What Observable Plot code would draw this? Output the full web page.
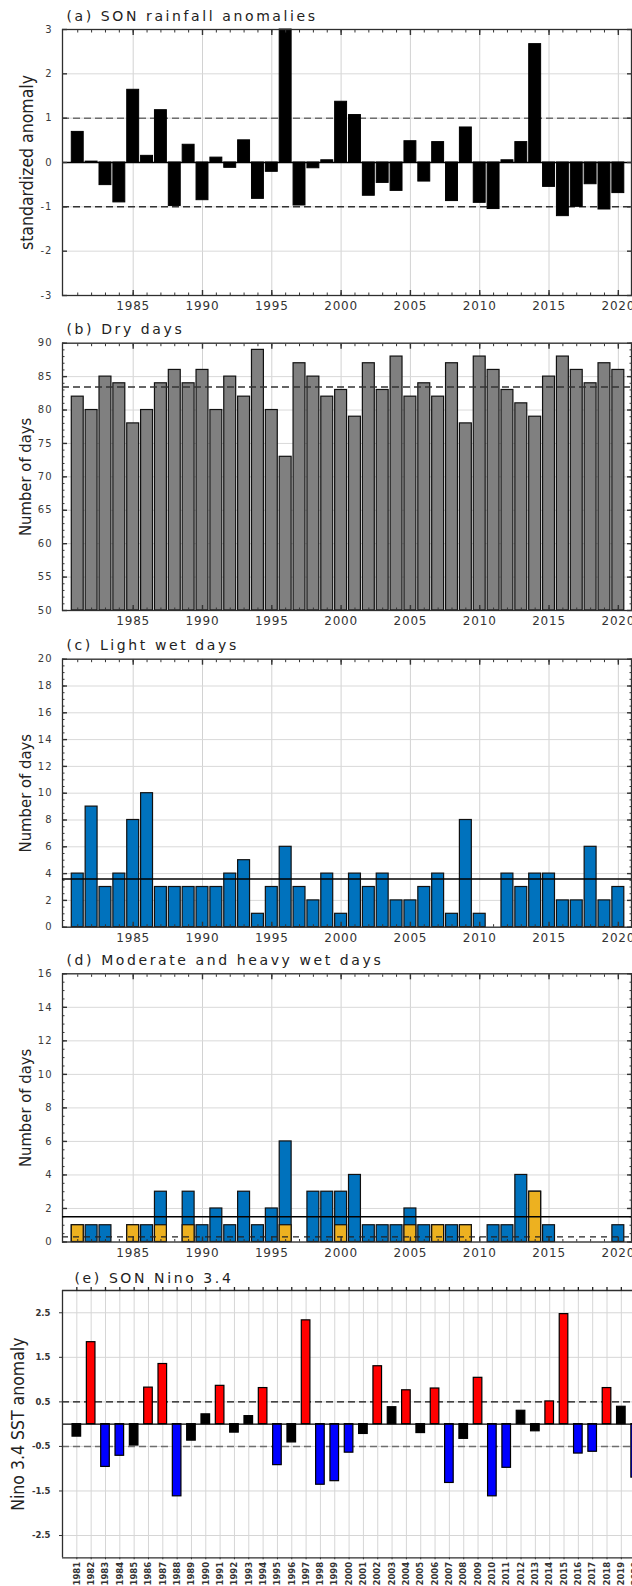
<!DOCTYPE html>
<html>
<head>
<meta charset="utf-8">
<script src="https://cdn.jsdelivr.net/npm/d3@7"></script>
<script src="https://cdn.jsdelivr.net/npm/@observablehq/plot@0.6"></script>
<style>
  html, body { margin: 0; padding: 0; background: #fff; }
  #fig { position: relative; width: 632px; height: 1586px; overflow: hidden; background: #fff; }
  #fig svg { position: absolute; left: 0; }
  .xlab text { letter-spacing: 0.8px; }
  .ylab text { letter-spacing: 1px; }
  .ttl text { letter-spacing: 2.6px; }
</style>
</head>
<body>
<div id="fig"></div>
<script>
// ---- data -------------------------------------------------------------
const years = d3.range(1981, 2021);
const yearTicks = [1985, 1990, 1995, 2000, 2005, 2010, 2015, 2020];

// (a) SON rainfall, standardized anomaly
const rainAnomaly = [0.69, 0.02, -0.51, -0.90, 1.64, 0.15, 1.18, -0.98, 0.40, -0.85,
  0.11, -0.12, 0.50, -0.82, -0.21, 3.00, -0.97, -0.13, 0.05, 1.37,
  1.07, -0.75, -0.46, -0.64, 0.48, -0.43, 0.46, -0.87, 0.79, -0.91,
  -1.05, 0.05, 0.46, 2.67, -0.55, -1.21, -1.00, -0.49, -1.06, -0.69];

// (b) dry days
const dryDays = [82, 80, 85, 84, 78, 80, 84, 86, 84, 86,
  80, 85, 82, 89, 80, 73, 87, 85, 82, 83,
  79, 87, 83, 88, 82, 84, 82, 87, 78, 88,
  86, 83, 81, 79, 85, 88, 86, 84, 87, 86];

// (c) light wet days
const lightWetDays = [4, 9, 3, 4, 8, 10, 3, 3, 3, 3,
  3, 4, 5, 1, 3, 6, 3, 2, 4, 1,
  4, 3, 4, 2, 2, 3, 4, 1, 8, 1,
  0, 4, 3, 4, 4, 2, 2, 6, 2, 3];

// (d) moderate + heavy wet days, and heavy wet days alone
const modHeavyWetDays = [1, 1, 1, 0, 1, 1, 3, 0, 3, 1,
  2, 1, 3, 1, 2, 6, 0, 3, 3, 3,
  4, 1, 1, 1, 2, 1, 1, 1, 1, 0,
  1, 1, 4, 3, 1, 0, 0, 0, 0, 1];
const heavyWetDays = [1, 0, 0, 0, 1, 0, 1, 0, 1, 0,
  0, 0, 0, 0, 0, 1, 0, 0, 0, 1,
  0, 0, 0, 0, 1, 0, 1, 0, 1, 0,
  0, 0, 0, 3, 0, 0, 0, 0, 0, 0];

// (e) SON Nino 3.4 SST anomaly
const nino34 = [-0.28, 1.84, -0.96, -0.71, -0.48, 0.82, 1.35, -1.62, -0.37, 0.22,
  0.86, -0.19, 0.18, 0.81, -0.92, -0.41, 2.33, -1.36, -1.28, -0.64,
  -0.22, 1.30, 0.38, 0.76, -0.20, 0.80, -1.32, -0.33, 1.04, -1.62,
  -0.98, 0.30, -0.16, 0.51, 2.47, -0.66, -0.62, 0.81, 0.39, -1.20];
const ninoTicks = [2.5, 1.5, 0.5, -0.5, -1.5, -2.5];

// ---- helpers ----------------------------------------------------------
const rows = (arr) => years.map((year, i) => ({year, value: arr[i]}));
const W = 632;
const FONT = "'DejaVu Sans', Verdana, sans-serif";
const COND = "'DejaVu Sans Condensed', 'Liberation Sans Narrow', 'DejaVu Sans', sans-serif";
const fig = document.getElementById("fig");
const blank = () => "";
const plain = (d) => String(d);

function place(node, top) {
  node.style.top = top + "px";
  fig.append(node);
}

// Framed panel shared by (a)–(d)
function upperPanel({top, height, frameTop, frameBottom, yDomain, yMajor, yMinor, title, ylabel, ylabelSize, ylabelDx, marks, overlays}) {
  return Plot.plot({
    width: W,
    height,
    marginTop: frameTop - top,
    marginBottom: top + height - frameBottom,
    marginLeft: 62,
    marginRight: 1,
    style: {fontFamily: FONT, background: "transparent", overflow: "visible"},
    x: {domain: [1979.9, 2020.95]},
    y: {domain: yDomain},
    marks: [
      Plot.gridX(yearTicks, {stroke: "#d2d2d2", strokeOpacity: 1, strokeWidth: 1}),
      Plot.gridY(yMajor, {stroke: "#d9d9d9", strokeOpacity: 1, strokeWidth: 1}),
      ...marks,
      Plot.frame({stroke: "#2e2e2e", strokeWidth: 1.3}),
      // minor and major inward ticks on all four sides
      Plot.axisX(years, {anchor: "top", tickSize: -2.5, tickFormat: blank, label: null, color: "#333"}),
      Plot.axisX(yearTicks, {anchor: "top", tickSize: -5, tickFormat: blank, label: null, color: "#333", strokeWidth: 1.4}),
      Plot.axisX(years, {anchor: "bottom", tickSize: -2.5, tickFormat: blank, label: null, color: "#333"}),
      Plot.axisX(yearTicks, {anchor: "bottom", tickSize: -5, tickFormat: blank, label: null, color: "#333", strokeWidth: 1.4}),
      Plot.axisX(yearTicks, {anchor: "bottom", tickSize: 0, tickPadding: 6, fontSize: 12, label: null, color: "#333", tickFormat: plain, className: "xlab"}),
      ...(yMinor ? [
        Plot.axisY(yMinor, {anchor: "left", tickSize: -2.5, tickFormat: blank, label: null, color: "#333"}),
        Plot.axisY(yMinor, {anchor: "right", tickSize: -2.5, tickFormat: blank, label: null, color: "#333"})
      ] : []),
      Plot.axisY(yMajor, {anchor: "left", tickSize: -5, tickFormat: blank, label: null, color: "#333", strokeWidth: 1.4}),
      Plot.axisY(yMajor, {anchor: "right", tickSize: -5, tickFormat: blank, label: null, color: "#333", strokeWidth: 1.4}),
      Plot.axisY(yMajor, {anchor: "left", tickSize: 0, tickPadding: 10, tickFormat: plain, fontSize: 10, label: null, color: "#3a3a3a", className: "ylab"}),
      ...(overlays || []),
      Plot.text([title], {frameAnchor: "top-left", dx: 4, dy: -9, lineAnchor: "bottom", textAnchor: "start", fontSize: 14, fill: "#222", className: "ttl"}),
      Plot.text([ylabel], {frameAnchor: "left", rotate: -90, dx: ylabelDx, textAnchor: "middle", lineAnchor: "middle", fontSize: ylabelSize, fontFamily: COND, fill: "#222"})
    ]
  });
}

const halfBar = 0.43;

// ---- (a) SON rainfall anomalies --------------------------------------
place(upperPanel({
  top: 0, height: 315, frameTop: 29, frameBottom: 295,
  yDomain: [-3, 3], yMajor: [-3, -2, -1, 0, 1, 2, 3], yMinor: null,
  title: "(a) SON rainfall anomalies", ylabel: "standardized anomaly", ylabelSize: 17.5, ylabelDx: -35,
  marks: [
    Plot.ruleY([1], {stroke: "#6e6e6e", strokeWidth: 1.5, strokeDasharray: "7,4"}),
    Plot.ruleY([-1], {stroke: "#333", strokeWidth: 1.5, strokeDasharray: "7,4"}),
    Plot.rectY(rows(rainAnomaly), {x1: d => d.year - halfBar, x2: d => d.year + halfBar, y1: 0, y2: "value", fill: "#000", stroke: "#000", strokeWidth: 1}),
    Plot.ruleY([0], {stroke: "#000", strokeWidth: 1.5})
  ]
}), 0);

// ---- (b) Dry days -----------------------------------------------------
place(upperPanel({
  top: 315, height: 315, frameTop: 342.7, frameBottom: 610,
  yDomain: [50, 90], yMajor: [50, 55, 60, 65, 70, 75, 80, 85, 90], yMinor: d3.range(50, 91),
  title: "(b) Dry days", ylabel: "Number of days", ylabelSize: 16.5, ylabelDx: -37,
  marks: [
    Plot.rectY(rows(dryDays), {x1: d => d.year - halfBar, x2: d => d.year + halfBar, y1: 50, y2: "value", fill: "#808080", stroke: "#111", strokeWidth: 1.2})
  ],
  overlays: [
    Plot.ruleY([d3.mean(dryDays)], {stroke: "#333", strokeWidth: 1.5, strokeDasharray: "7,4"})
  ]
}), 315);

// ---- (c) Light wet days ----------------------------------------------
place(upperPanel({
  top: 630, height: 315, frameTop: 658.7, frameBottom: 926.7,
  yDomain: [0, 20], yMajor: d3.range(0, 21, 2), yMinor: d3.range(0, 20.01, 0.5),
  title: "(c) Light wet days", ylabel: "Number of days", ylabelSize: 16.5, ylabelDx: -37,
  marks: [
    Plot.rectY(rows(lightWetDays).filter(d => d.value > 0), {x1: d => d.year - halfBar, x2: d => d.year + halfBar, y1: 0, y2: "value", fill: "#0072BD", stroke: "#111", strokeWidth: 1.2})
  ],
  overlays: [
    Plot.ruleY([d3.mean(lightWetDays)], {stroke: "#000", strokeWidth: 1.5})
  ]
}), 630);

// ---- (d) Moderate and heavy wet days ----------------------------------
place(upperPanel({
  top: 945, height: 317, frameTop: 973.3, frameBottom: 1241.5,
  yDomain: [0, 16], yMajor: d3.range(0, 17, 2), yMinor: d3.range(0, 16.01, 0.5),
  title: "(d) Moderate and heavy wet days", ylabel: "Number of days", ylabelSize: 16.5, ylabelDx: -37,
  marks: [
    Plot.rectY(rows(modHeavyWetDays).filter(d => d.value > 0), {x1: d => d.year - halfBar, x2: d => d.year + halfBar, y1: 0, y2: "value", fill: "#0072BD", stroke: "#111", strokeWidth: 1.2}),
    Plot.rectY(rows(heavyWetDays).filter(d => d.value > 0), {x1: d => d.year - halfBar, x2: d => d.year + halfBar, y1: 0, y2: "value", fill: "#EDB120", stroke: "#111", strokeWidth: 1.2})
  ],
  overlays: [
    Plot.ruleY([d3.mean(modHeavyWetDays)], {stroke: "#000", strokeWidth: 1.5}),
    Plot.ruleY([d3.mean(heavyWetDays)], {stroke: "#222", strokeWidth: 1.2, strokeDasharray: "6,5"})
  ]
}), 945);

// ---- (e) SON Nino 3.4 -------------------------------------------------
const ninoRows = rows(nino34);
const halfNino = 0.3;
const ninoBar = (subset, fill) => Plot.rectY(subset, {x1: d => d.year - halfNino, x2: d => d.year + halfNino, y1: 0, y2: "value", fill, stroke: "#000", strokeWidth: 1.2});
place(Plot.plot({
  width: W,
  height: 324,
  marginTop: 28,
  marginBottom: 28.7,
  marginLeft: 62,
  marginRight: 0,
  style: {fontFamily: FONT, background: "transparent", overflow: "visible"},
  x: {domain: [1980, 2021], range: [62, 649.5]},
  y: {domain: [-3, 3]},
  marks: [
    Plot.gridX(years, {stroke: "#d6d6d6", strokeOpacity: 1, strokeWidth: 1}),
    Plot.gridY(ninoTicks, {stroke: "#d6d6d6", strokeOpacity: 1, strokeWidth: 1}),
    Plot.ruleY([0.5], {stroke: "#111", strokeWidth: 1.4, strokeDasharray: "7,4"}),
    Plot.ruleY([-0.5], {stroke: "#6e6e6e", strokeWidth: 1.4, strokeDasharray: "7,4"}),
    ninoBar(ninoRows.filter(d => d.value >= 0.5), "#ff0000"),
    ninoBar(ninoRows.filter(d => d.value <= -0.5), "#0000ff"),
    ninoBar(ninoRows.filter(d => d.value > -0.5 && d.value < 0.5), "#000"),
    Plot.ruleY([0], {stroke: "#000", strokeWidth: 1.3}),
    Plot.ruleY([3], {stroke: "#2e2e2e", strokeWidth: 1.3}),
    Plot.ruleY([-3], {stroke: "#2e2e2e", strokeWidth: 1.3}),
    Plot.ruleX([1980], {stroke: "#2e2e2e", strokeWidth: 1.3}),
    Plot.axisX(years, {anchor: "top", tickSize: 4, tickFormat: blank, label: null, color: "#222", strokeWidth: 1.3}),
    Plot.axisX(years, {anchor: "bottom", tickSize: 2, tickPadding: 2, tickRotate: -90, fontSize: 8.5, fontWeight: "bold", label: null, color: "#333", tickFormat: plain}),
    Plot.axisY(ninoTicks, {anchor: "left", tickSize: 3, tickPadding: 9, fontSize: 8.5, fontWeight: "bold", label: null, color: "#333", tickFormat: d => d.toFixed(1)}),
    Plot.text(["(e) SON Nino 3.4"], {frameAnchor: "top-left", dx: 12, dy: -8, lineAnchor: "bottom", textAnchor: "start", fontSize: 14, fill: "#222", className: "ttl"}),
    Plot.text(["Nino 3.4 SST anomaly"], {frameAnchor: "left", rotate: -90, dx: -44.5, textAnchor: "middle", lineAnchor: "middle", fontSize: 17.5, fontFamily: COND, fill: "#222"})
  ]
}), 1262);
</script>
</body>
</html>
